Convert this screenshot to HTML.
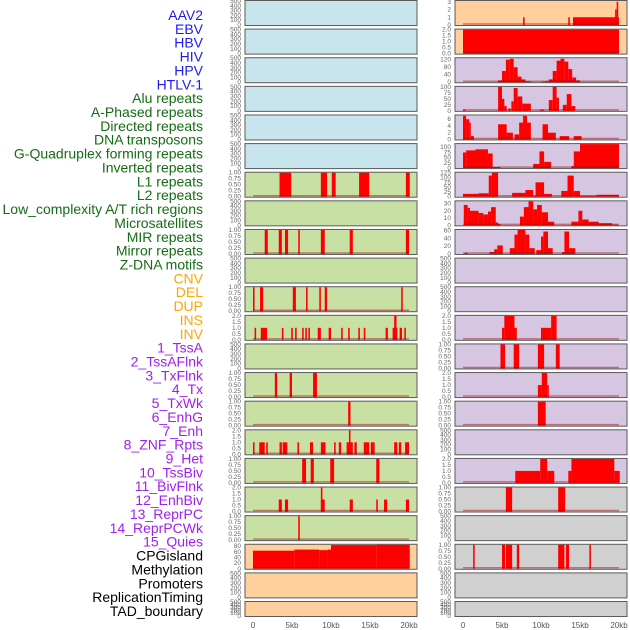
<!DOCTYPE html>
<html><head><meta charset="utf-8">
<style>
html,body{margin:0;padding:0;background:#fff;}
svg{display:block;font-family:"Liberation Sans",sans-serif;}
</style></head>
<body>
<svg id="chart" width="630" height="630" viewBox="0 0 630 630" xmlns="http://www.w3.org/2000/svg"></svg>
<script>
// ---------- data ----------
const trackLabels = ["AAV2","EBV","HBV","HIV","HPV","HTLV-1","Alu repeats","A-Phased repeats","Directed repeats","DNA transposons","G-Quadruplex forming repeats","Inverted repeats","L1 repeats","L2 repeats","Low_complexity A/T rich regions","Microsatellites","MIR repeats","Mirror repeats","Z-DNA motifs","CNV","DEL","DUP","INS","INV","1_TssA","2_TssAFlnk","3_TxFlnk","4_Tx","5_TxWk","6_EnhG","7_Enh","8_ZNF_Rpts","9_Het","10_TssBiv","11_BivFlnk","12_EnhBiv","13_ReprPC","14_ReprPCWk","15_Quies","CPGisland","Methylation","Promoters","ReplicationTiming","TAD_boundary"];
const labelGroups = [6,13,5,15,5];
const xTickValues = [0,5,10,15,20];
const xTickLabels = ["0","5kb","10kb","15kb","20kb"];
// segments: [startKb, endKb, value]
const segL1 = [[3.4,4.9,1],[8.7,9.5,1],[10.1,10.6,1],[13.6,14.9,1],[19.6,20.1,1]];
const segMIR = [[1.5,1.9,1],[3.3,3.7,1],[4.1,4.5,1],[5.8,6.0,1],[8.7,9.2,1],[12.4,12.8,1],[19.6,20.0,1]];
const segDEL = [[0,0.2,1],[0.9,1.3,1],[5.1,5.5,1],[6.8,7.0,1],[8.5,8.7,1],[9.2,9.5,1],[19.0,19.2,1]];
const segINS = [[0.2,0.4,1],[1.0,1.8,1],[3.7,3.9,1],[4.9,5.1,1],[5.4,5.6,1],[6.3,6.5,1],[6.7,6.9,1],[7.1,7.3,1],[8.3,8.7,1],[9.7,10.0,1],[11.3,11.5,1],[12.2,12.4,1],[13.5,13.7,1],[14.2,14.4,1],[17.0,17.3,1],[17.9,18.5,1],[18.1,18.4,2],[18.8,19.1,1],[19.4,19.6,1]];
const segTssA = [[2.8,3.1,1],[4.7,5.0,1],[7.7,8.2,1]];
const segTx = [[12.2,12.5,1]];
const segTxWk = [[0,0.2,1],[0.8,1.5,1],[1.7,1.9,1],[3.4,3.7,1],[3.8,4.4,1],[5.7,5.9,1],[7.3,7.7,1],[8.7,9.3,1],[10.4,10.6,1],[11.0,11.3,1],[12.0,12.8,1],[12.3,12.5,2],[13.0,13.3,1],[14.2,14.9,1],[15.1,15.6,1],[18.1,18.5,1],[18.7,19.0,1],[19.5,20.0,1]];
const segEnhG = [[6.3,6.8,1],[7.4,7.8,1],[9.9,10.4,1],[15.8,16.2,1]];
const segEnh = [[3.3,3.7,1],[4.1,4.5,1],[8.7,9.2,1],[8.7,8.9,2],[12.4,12.8,1],[15.8,16.0,1],[16.8,17.2,1],[19.6,20.0,1]];
const segZNF = [[5.8,6.0,1]];
const segCpG = [[0,5.3,64],[5.3,8.5,68],[8.5,9.6,66],[9.6,10.0,68],[10.0,15.8,84],[15.8,20.1,85]];
const segAAV2R = [[7.7,7.9,1],[13.5,13.7,1],[14.1,20.0,1],[19.5,19.7,2],[19.7,19.9,3]];
const segEBVR = [[0,20,2]];
const segHIVR = [[4.5,5,10],[5,5.5,60],[5.5,6,120],[6,6.5,125],[6.5,7,80],[7,7.5,30],[7.5,8,15],[8,8.7,5],[10,10.5,3],[10.5,11,5],[11,11.5,15],[11.5,12,60],[12,12.5,115],[12.5,13,125],[13,13.5,110],[13.5,14,70],[14,14.5,25],[14.5,15,10]];
const segAluR = [[0,0.3,5],[4.5,5.0,100],[5.0,5.3,50],[5.3,5.6,20],[5.8,6.1,10],[6.2,6.5,40],[6.5,7.0,95],[7.0,7.6,60],[7.6,8.7,30],[9.9,10.4,5],[11.0,11.5,45],[11.5,12.0,100],[12.0,12.3,55],[12.8,13.3,25],[13.3,13.9,70],[13.9,14.4,20]];
const segDirR = [[0,0.4,7],[0.4,0.8,6],[0.8,1.0,5],[1.0,1.4,1],[4.5,5.6,4.5],[5.6,6.4,2],[6.6,7.2,1.5],[7.2,7.7,5],[7.7,8.2,7],[8.2,8.7,5],[10.2,10.9,4.5],[10.9,11.9,2],[12.4,13.6,1],[14.2,15.2,1]];
const segGqR = [[0,0.4,75],[0.4,1.6,85],[1.6,3.2,90],[3.2,3.8,70],[3.8,4.8,5],[9.0,9.8,20],[9.8,10.4,80],[10.4,11.3,30],[13.9,14.2,10],[14.2,15.0,80],[15.0,20.0,115]];
const segInvR = [[0,2.0,15],[2.0,3.3,18],[3.3,3.7,110],[3.7,4.5,125],[6.3,8.0,20],[8.0,9.0,35],[9.0,9.3,5],[9.3,10.4,75],[10.4,11.4,15],[12.6,13.4,30],[13.4,14.2,110],[14.2,15.0,30],[15.0,17.1,5],[17.1,20.0,10]];
const segL1R = [[0.1,0.6,28],[0.6,0.9,24],[0.9,2.0,20],[2.0,2.6,17],[2.6,3.2,15],[3.2,3.6,19],[3.6,4.2,25],[4.2,4.5,4],[4.5,4.8,2],[7.3,7.8,12],[7.8,8.4,25],[8.4,9.0,33],[9.0,9.5,22],[9.5,10.1,28],[10.1,10.9,18],[10.9,11.7,5],[13.9,14.8,5],[14.8,15.3,20],[15.3,16.1,8],[16.1,17.4,5],[17.4,19.1,3],[19.1,19.9,1]];
const segMIRR = [[0.2,0.6,3],[3.4,4.0,5],[4.0,4.4,12],[4.4,5.1,22],[6.0,6.6,15],[6.6,7.0,50],[7.0,8.0,62],[8.0,8.5,50],[8.5,9.2,15],[9.4,10.0,10],[10.0,10.3,45],[10.3,10.9,58],[10.9,11.5,15],[12.7,13.0,5],[13.0,13.6,58],[13.6,14.4,15]];
const segINSR = [[5.0,5.3,1],[5.3,6.6,2],[6.6,6.9,1],[10.0,11.3,1],[11.3,12.0,2]];
const segINVR = [[4.8,5.4,1],[6.5,7.2,1],[9.6,10.4,1],[11.9,12.4,1]];
const segTssAR = [[9.6,10.1,1],[10.1,10.8,2],[10.8,11.0,1]];
const segTssAFR = [[9.6,10.6,1]];
const segEnhGR = [[6.7,9.9,1],[9.9,10.8,2],[10.8,11.7,1],[13.5,13.9,1],[13.9,19.4,2],[19.4,20.1,1]];
const segEnhR = [[5.5,6.3,1],[12.2,13.1,1]];
const segCpGR = [[1.3,1.5,1],[5.0,5.4,1],[5.5,6.3,1],[6.9,7.2,1],[12.2,13.0,1],[13.2,13.6,1],[16.2,16.4,1]];

const emptyTicks = [0,100,200,300,400,500];
const t1 = [0,0.25,0.5,0.75,1];
const t2 = [0,0.5,1,1.5,2];
const leftPanels = [
 {bg:"#c8e4ec",seg:null},{bg:"#c8e4ec",seg:null},{bg:"#c8e4ec",seg:null},{bg:"#c8e4ec",seg:null},{bg:"#c8e4ec",seg:null},{bg:"#c8e4ec",seg:null},
 {bg:"#c8e0a4",seg:segL1,ymax:1,ticks:t1,dec:2},{bg:"#c8e0a4",seg:null},{bg:"#c8e0a4",seg:segMIR,ymax:1,ticks:t1,dec:2},{bg:"#c8e0a4",seg:null},
 {bg:"#c8e0a4",seg:segDEL,ymax:1,ticks:t1,dec:2},{bg:"#c8e0a4",seg:segINS,ymax:2,ticks:t2,dec:1},{bg:"#c8e0a4",seg:null},
 {bg:"#c8e0a4",seg:segTssA,ymax:1,ticks:t1,dec:2},{bg:"#c8e0a4",seg:segTx,ymax:1,ticks:t1,dec:2},{bg:"#c8e0a4",seg:segTxWk,ymax:2,ticks:t2,dec:1},
 {bg:"#c8e0a4",seg:segEnhG,ymax:1,ticks:t1,dec:2},{bg:"#c8e0a4",seg:segEnh,ymax:2,ticks:t2,dec:1},{bg:"#c8e0a4",seg:segZNF,ymax:1,ticks:t1,dec:2},
 {bg:"#ffcf9e",seg:segCpG,ymax:85,ticks:[0,20,40,60,80],dec:0},{bg:"#ffcf9e",seg:null},{bg:"#ffcf9e",seg:null}
];
const rightPanels = [
 {bg:"#ffcf9e",seg:segAAV2R,ymax:3.1,ticks:[0,1,2,3],dec:0},{bg:"#ffcf9e",seg:segEBVR,ymax:2,ticks:t2,dec:1},
 {bg:"#d6c6e2",seg:segHIVR,ymax:128,ticks:[0,40,80,120],dec:0},{bg:"#d6c6e2",seg:segAluR,ymax:100,ticks:[0,25,50,75,100],dec:0},
 {bg:"#d6c6e2",seg:segDirR,ymax:7.1,ticks:[0,2,4,6],dec:0},{bg:"#d6c6e2",seg:segGqR,ymax:115,ticks:[0,25,50,75,100],dec:0},
 {bg:"#d6c6e2",seg:segInvR,ymax:125,ticks:[0,25,50,75,100,125],dec:0},{bg:"#d6c6e2",seg:segL1R,ymax:33,ticks:[0,10,20,30],dec:0},
 {bg:"#d6c6e2",seg:segMIRR,ymax:62,ticks:[0,20,40,60],dec:0},{bg:"#d6c6e2",seg:null},{bg:"#d6c6e2",seg:null},
 {bg:"#d6c6e2",seg:segINSR,ymax:2,ticks:t2,dec:1},{bg:"#d6c6e2",seg:segINVR,ymax:1,ticks:t1,dec:2},
 {bg:"#d6c6e2",seg:segTssAR,ymax:2,ticks:t2,dec:1},{bg:"#d6c6e2",seg:segTssAFR,ymax:1,ticks:t1,dec:2},{bg:"#d6c6e2",seg:null},
 {bg:"#d6c6e2",seg:segEnhGR,ymax:2,ticks:t2,dec:1},{bg:"#d0d0d0",seg:segEnhR,ymax:1,ticks:t1,dec:2},{bg:"#d0d0d0",seg:null},
 {bg:"#d0d0d0",seg:segCpGR,ymax:1,ticks:t1,dec:2},{bg:"#d0d0d0",seg:null},{bg:"#d0d0d0",seg:null}
];

// ---------- drawing ----------
const NS="http://www.w3.org/2000/svg";
const svg=document.getElementById("chart");
function mk(tag,attrs,parent){const e=document.createElementNS(NS,tag);for(const k in attrs)e.setAttribute(k,attrs[k]);(parent||svg).appendChild(e);return e;}
const PXKB=7.8;
const cols=[{left:245,right:417,x0:253},{left:455,right:627,x0:463}];
function rowTop(i){return 0.5+i*28.62;}
function rowH(i){return i===21?15:25;}

// labels
const groupColors=["#1c1cf0","#156c15","#ffa500","#a020f0","#000000"];
let li=0;
labelGroups.forEach((n,g)=>{for(let k=0;k<n;k++){
  const t=mk("text",{x:203,y:15+li*13.86,"text-anchor":"end","dominant-baseline":"central","font-size":"14",fill:groupColors[g]});
  t.textContent=trackLabels[li];
  
  
  li++;}});

function drawPanel(p,i,c){
  const col=cols[c];const top=rowTop(i);const h=rowH(i);const bot=top+h;
  const xs=kb=>col.x0+kb*PXKB;
  const r=mk("rect",{x:col.left,y:top,width:col.right-col.left,height:h,fill:p.bg,stroke:"#5a5a5a","stroke-width":1});
  
  
  const ymax=p.seg?p.ymax:500;
  const ticks=p.seg?p.ticks:emptyTicks;
  const dec=p.seg?p.dec:0;
  const ys=v=>bot-0.5-(v/ymax)*(h-1);
  ticks.forEach(v=>{
    const t=mk("text",{x:col.left-4,y:ys(v)+2,"text-anchor":"end","font-size":"6.5",fill:"#666"});
    t.textContent=v.toFixed(dec);
    
    
  });
  if(p.seg){
    p.seg.forEach(s=>{
      const y=Math.max(ys(s[2]),top+0.5);
      const b=mk("rect",{x:xs(s[0]),y:y,width:Math.max(xs(s[1])-xs(s[0]),1),height:bot-0.5-y,fill:"#ff0000"});
      
      
    });
    const l=mk("line",{x1:xs(0),x2:xs(20),y1:bot-1.5,y2:bot-1.5,stroke:"#a00000","stroke-opacity":0.45,"stroke-width":1.5});
    
    
  }
}
leftPanels.forEach((p,i)=>drawPanel(p,i,0));
rightPanels.forEach((p,i)=>drawPanel(p,i,1));

cols.forEach(col=>{
  xTickValues.forEach((v,k)=>{
    const t=mk("text",{x:col.x0+v*PXKB,y:628,"text-anchor":"middle","font-size":"8",fill:"#555"});
    t.textContent=xTickLabels[k];
    
    
  });
});
</script>
</body></html>
